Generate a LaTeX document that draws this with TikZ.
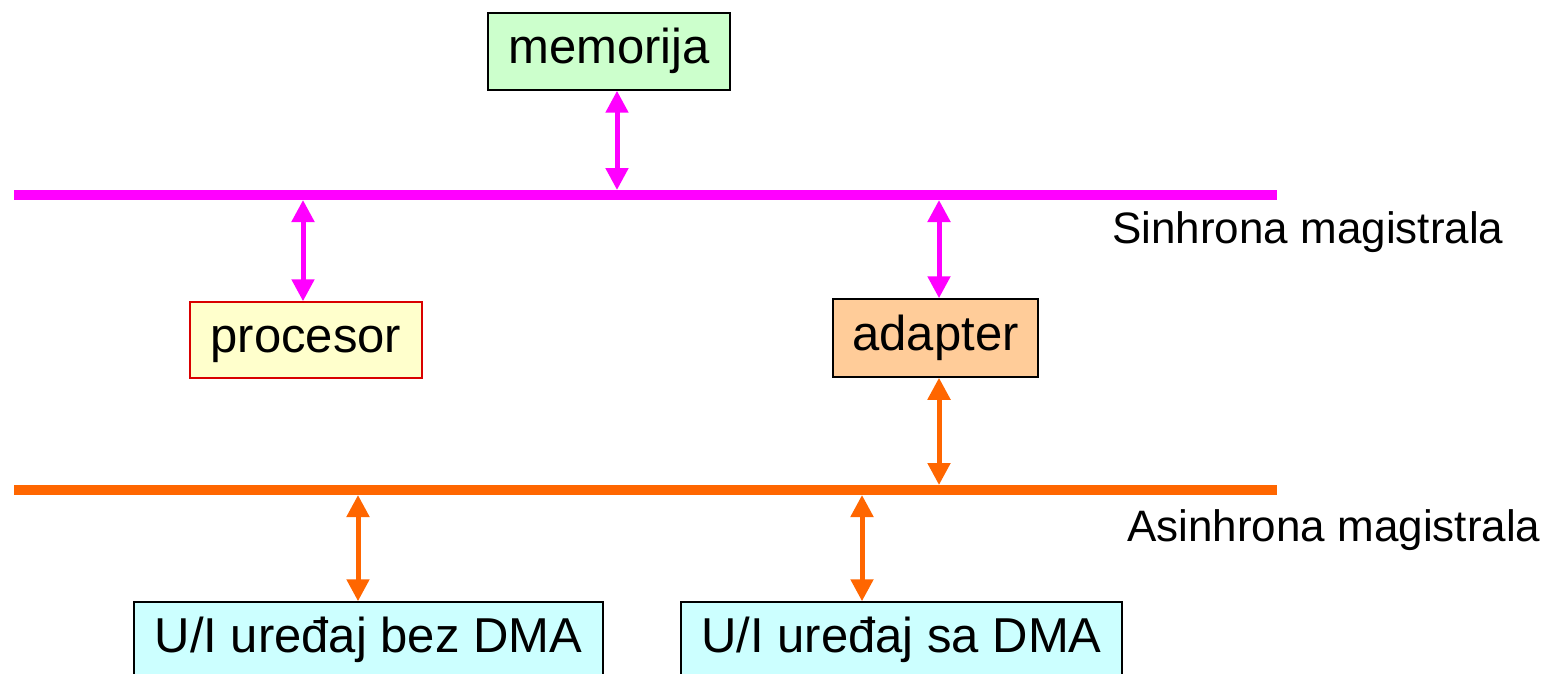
\documentclass[tikz,border=0pt]{standalone}
\usepackage{fontspec}
\setmainfont{Liberation Sans}
\usetikzlibrary{arrows.meta,calc}
\definecolor{busmag}{HTML}{FF00FF}
\definecolor{busorg}{HTML}{FF6600}
\definecolor{memfill}{HTML}{CCFFCC}
\definecolor{cpufill}{HTML}{FFFFCC}
\definecolor{adpfill}{HTML}{FFCC99}
\definecolor{iofill}{HTML}{CCFFFF}
\tikzset{
  box/.style={draw=black, line width=1.5pt, inner sep=0pt, font=\fontsize{49}{58}\selectfont, text height=35pt, text depth=10pt},
  bus/.style={line width=10pt},
  link/.style={line width=5pt, {Triangle[length=22pt,width=22pt]}-{Triangle[length=22pt,width=22pt]}},
  lbl/.style={inner sep=0pt, anchor=west, font=\fontsize{44}{52}\selectfont, text height=32pt, text depth=9pt}
}
\begin{document}
\begin{tikzpicture}[x=1pt,y=-1pt]
\useasboundingbox[fill=white] (0,0) rectangle (1547,674);
\clip (0,0) rectangle (1547,674);
% buses
\coordinate (sL) at (14,195);
\coordinate (sR) at (1277,195);
\coordinate (aL) at (14,490);
\coordinate (aR) at (1277,490);
\draw[bus, busmag] (sL) -- (sR);
\draw[bus, busorg] (aL) -- (aR);
% nodes
\node[box, fill=memfill, minimum width=242pt, minimum height=77pt] (mem) at (609,51.5) {memorija};
\node[box, draw=red!85!black, fill=cpufill, minimum width=232pt, minimum height=76pt] (cpu) at (306,340) {procesor};
\node[box, fill=adpfill, minimum width=205pt, minimum height=78pt] (adp) at (935.5,338) {adapter};
\node[box, fill=iofill, minimum width=469pt, minimum height=76pt] (io1) at (368.5,640) {U/I uređaj bez DMA};
\node[box, fill=iofill, minimum width=441pt, minimum height=76pt] (io2) at (901.5,640) {U/I uređaj sa DMA};
% tap points on buses
\coordinate (tm) at (617,190);
\coordinate (tc) at (303,200);
\coordinate (ta) at (939,200);
\coordinate (tb) at (939,485);
\coordinate (t1) at (358,495);
\coordinate (t2) at (862,495);
% links
\draw[link, busmag] (tm |- mem.south) -- (tm);
\draw[link, busmag] (tc) -- (tc |- cpu.north);
\draw[link, busmag] (ta) -- (ta |- adp.north);
\draw[link, busorg] (tb |- adp.south) -- (tb);
\draw[link, busorg] (t1) -- (t1 |- io1.north);
\draw[link, busorg] (t2) -- (t2 |- io2.north);
% labels
\node[lbl] (sl) at (1112,232) {Sinhrona magistrala};
\node[lbl] (al) at (1127,530) {Asinhrona magistrala};
\end{tikzpicture}
\end{document}
